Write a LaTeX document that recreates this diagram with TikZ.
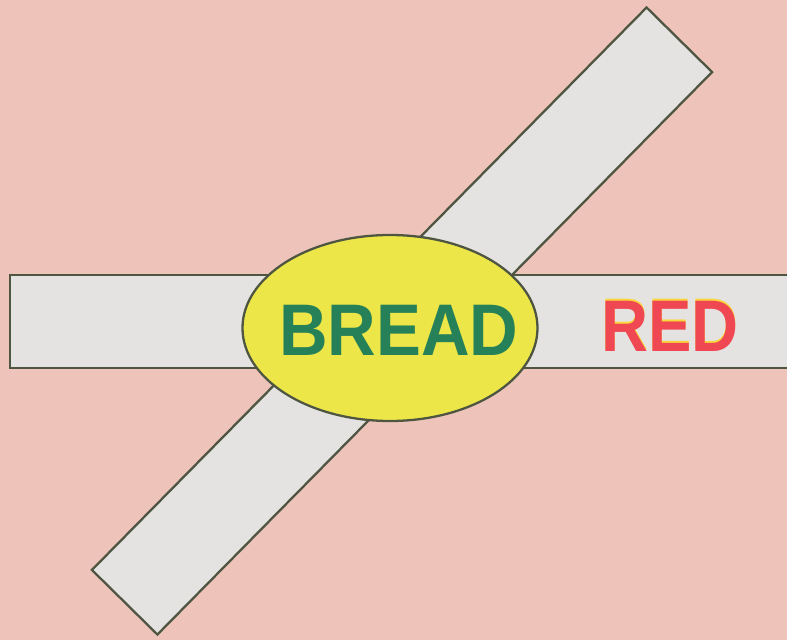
\documentclass[tikz,border=0pt]{standalone}
\usepackage{xcolor}
\usepackage{fontspec}
\setmainfont{Liberation Sans}
\usepackage{tikz}
\usetikzlibrary{positioning,shapes.geometric}
\definecolor{PaperPink}{RGB}{238,196,186}
\definecolor{BarGray}{RGB}{229,227,225}
\definecolor{EdgeDark}{RGB}{78,86,66}
\definecolor{EggYellow}{RGB}{236,230,72}
\definecolor{WordGreen}{RGB}{38,128,88}
\definecolor{WordRed}{RGB}{240,72,82}
\definecolor{GlowYellow}{RGB}{250,214,60}
\tikzset{
    bar/.style={draw=EdgeDark, line width=0.65pt, fill=BarGray, rectangle, inner sep=0pt, minimum height=0.93cm},
    hub/.style={draw=EdgeDark, line width=0.65pt, fill=EggYellow, ellipse, inner sep=0pt, minimum width=2.95cm, minimum height=1.86cm},
    word/.style={inner sep=0pt, font=\fontsize{20.8pt}{24pt}\selectfont\bfseries},
}

\begin{document}
\begin{tikzpicture}
\useasboundingbox (0,0) rectangle (7.87,6.40);
\fill[PaperPink] (0,0) rectangle (7.87,6.40);
\clip (0,0) rectangle (7.87,6.40);
\node[bar, minimum width=7.90cm] (hbar) at (4.05,3.185) {};
\node[bar, minimum width=7.90cm, minimum height=0.92cm, rotate=45.4] (dbar) at (4.02,3.19) {};
\node[hub] (hub) at (3.90,3.12) {};
\node[word, WordGreen, xscale=0.92] (bread) at (3.99,3.10) {BREAD};
% yellow fringe along the top of the red word
\node[word, GlowYellow, xscale=0.89] (redglow) at (6.70,3.154) {RED};
\node[word, WordRed, xscale=0.89] (red) at (6.70,3.14) {RED};
\end{tikzpicture}
\end{document}
